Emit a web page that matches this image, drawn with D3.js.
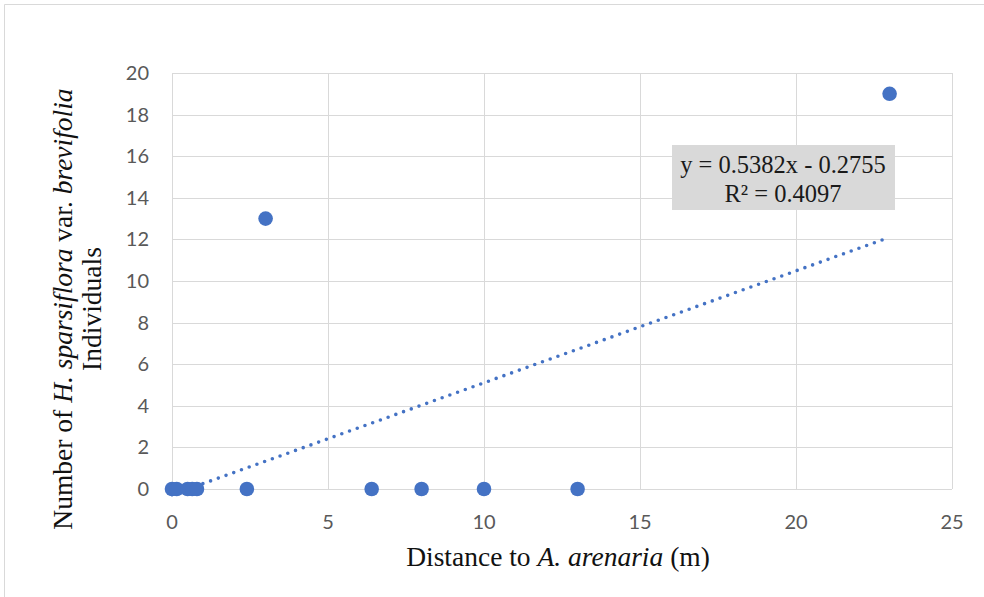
<!DOCTYPE html>
<html><head><meta charset="utf-8">
<script src="https://cdn.jsdelivr.net/npm/d3@7"></script>
<style>body{margin:0;background:#fff}</style>
</head><body>
<script>
const distances = [0, 0.15, 0.5, 0.65, 0.8, 2.4, 3, 6.4, 8, 10, 13, 23];
const counts    = [0, 0,    0,   0,    0,   0,   13, 0,  0, 0,  0,  19];
const xTicks = [0, 5, 10, 15, 20, 25];
const yTicks = [0, 2, 4, 6, 8, 10, 12, 14, 16, 18, 20];
const trendSlope = 0.5382, trendIntercept = -0.2755;
const eqLabel = "y = 0.5382x - 0.2755";
const r2Label = "R² = 0.4097";

const W = 984, H = 597;
const svg = d3.select("body").append("svg").attr("width", W).attr("height", H);
// outer chart border
svg.append("path").attr("d", `M4.5,${H} L4.5,4.5 L${W},4.5`).attr("fill","none").attr("stroke","#d9d9d9").attr("stroke-width",1);

const x = d3.scaleLinear().domain([0, 25]).range([172, 952]);
const y = d3.scaleLinear().domain([0, 20]).range([489, 73]);

const grid = svg.append("g");
grid.selectAll(".v").data(xTicks).join("line")
  .attr("x1", d => Math.round(x(d)) + 0.5).attr("x2", d => Math.round(x(d)) + 0.5)
  .attr("y1", y(20)).attr("y2", y(0)).attr("stroke", "#d9d9d9");
grid.selectAll(".h").data(yTicks).join("line")
  .attr("x1", x(0)).attr("x2", x(25))
  .attr("y1", d => Math.round(y(d)) + 0.5).attr("y2", d => Math.round(y(d)) + 0.5).attr("stroke", "#d9d9d9");

const tickFont = "Lato, 'Open Sans', sans-serif";
svg.append("g").selectAll("text").data(yTicks).join("text")
  .attr("x", 149).attr("y", d => y(d)).attr("dy", "0.35em").attr("text-anchor", "end")
  .attr("font-family", tickFont).attr("font-size", 20).attr("fill", "#595959").text(d => d);
svg.append("g").selectAll("text").data(xTicks).join("text")
  .attr("x", d => x(d)).attr("y", 522).attr("dy", "0.35em").attr("text-anchor", "middle")
  .attr("font-family", tickFont).attr("font-size", 20).attr("fill", "#595959").text(d => d);

// trendline
const xMin = d3.min(distances), xMax = d3.max(distances);
svg.append("line")
  .attr("x1", x(xMin)).attr("y1", y(trendSlope * xMin + trendIntercept))
  .attr("x2", x(xMax)).attr("y2", y(trendSlope * xMax + trendIntercept))
  .attr("stroke", "#4472c4").attr("stroke-width", 3.6).attr("stroke-dasharray", "0 8.2").attr("stroke-linecap", "round");

// points
svg.append("g").selectAll("circle").data(distances.map((d, i) => [d, counts[i]])).join("circle")
  .attr("cx", d => x(d[0])).attr("cy", d => y(d[1])).attr("r", 7.3).attr("fill", "#4472c4");

// equation box
const serif = "'Liberation Serif', 'Times New Roman', serif";
svg.append("rect").attr("x", 672).attr("y", 145).attr("width", 223).attr("height", 65).attr("fill", "#d9d9d9");
svg.append("text").attr("x", 783).attr("y", 173).attr("text-anchor", "middle").attr("font-family", serif)
  .attr("font-size", 24.5).attr("fill", "#1a1a1a").text(eqLabel);
svg.append("text").attr("x", 783).attr("y", 202).attr("text-anchor", "middle").attr("font-family", serif)
  .attr("font-size", 24.5).attr("fill", "#1a1a1a").text(r2Label);

// x axis title
const xt = svg.append("text").attr("x", 558).attr("y", 566).attr("text-anchor", "middle")
  .attr("font-family", serif).attr("font-size", 27.5).attr("fill", "#111");
xt.append("tspan").text("Distance to ");
xt.append("tspan").attr("font-style", "italic").text("A. arenaria");
xt.append("tspan").text(" (m)");

// y axis title
const yt = svg.append("text").attr("transform", "translate(72,309) rotate(-90)").attr("text-anchor", "middle")
  .attr("font-family", serif).attr("font-size", 27.5).attr("fill", "#111");
yt.append("tspan").attr("x", 0).attr("y", 0).text("Number of ");
yt.append("tspan").attr("font-style", "italic").text("H. sparsiflora");
yt.append("tspan").text(" var. ");
yt.append("tspan").attr("font-style", "italic").text("brevifolia");
svg.append("text").attr("transform", "translate(101,309) rotate(-90)").attr("text-anchor", "middle")
  .attr("font-family", serif).attr("font-size", 27.5).attr("fill", "#111").text("Individuals");
</script>
</body></html>
